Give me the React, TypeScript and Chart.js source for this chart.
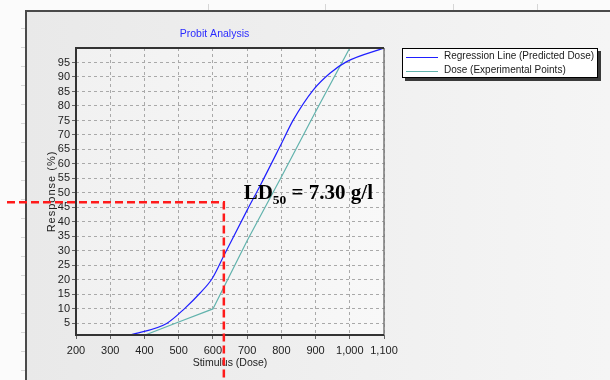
import React, { useEffect, useRef } from "react";
import { Chart, registerables } from "chart.js";

Chart.register(...registerables);

// ---- data ----
const REG_DOSE = [358, 465, 518, 562, 598, 633, 702, 738, 796, 835, 893, 942, 991, 1100];
const REG_RESP = [1, 5, 10.2, 15.4, 20.5, 28.6, 44.5, 52.5, 66, 75.2, 85.5, 91.3, 95.3, 100];

const EXP_DOSE = [402, 500, 600, 700, 800, 900, 1000];
const EXP_RESP = [1, 5.5, 10, 33.5, 55.5, 78, 100];

const X_TICKS = [200, 300, 400, 500, 600, 700, 800, 900, 1000, 1100];
const Y_TICKS = [5, 10, 15, 20, 25, 30, 35, 40, 45, 50, 55, 60, 65, 70, 75, 80, 85, 90, 95];

const SERIES_LABELS = ["Regression Line (Predicted Dose)", "Dose (Experimental Points)"];
const SERIES_COLORS = ["#1f1fff", "#62b3ad"];

const TITLE = "Probit Analysis";
const X_TITLE = "Stimulus (Dose)";
const Y_TITLE = "Response (%)";

const LD_DOSE = 632;
const LD_RESPONSE = 46.8;
const LD_TEXT_DOSE = 690;
const LD_TEXT_RESP = 47.9;

const SANS = "'Liberation Sans', Arial, sans-serif";
const SERIF = "'Liberation Serif', 'Times New Roman', serif";

const decorPlugin = {
  id: "decor",
  beforeDraw(chart: any) {
    const { ctx, width, height, chartArea } = chart;
    ctx.save();
    ctx.fillStyle = "#fbfbfb";
    ctx.fillRect(0, 0, width, height);
    // panel
    const g = ctx.createLinearGradient(26, 0, width, 0);
    g.addColorStop(0, "#e9e9e9");
    g.addColorStop(1, "#f5f5f5");
    ctx.fillStyle = g;
    ctx.fillRect(26, 11, width - 26, height - 11);
    // plot area
    const pg = ctx.createLinearGradient(chartArea.left, 0, chartArea.right, 0);
    pg.addColorStop(0, "#f1f1f1");
    pg.addColorStop(1, "#f8f8f8");
    ctx.fillStyle = pg;
    ctx.fillRect(chartArea.left, chartArea.top, chartArea.right - chartArea.left, chartArea.bottom - chartArea.top);
    // panel border
    ctx.strokeStyle = "#4a4a4a";
    ctx.lineWidth = 2;
    ctx.beginPath();
    ctx.moveTo(26, height);
    ctx.lineTo(26, 11);
    ctx.lineTo(width, 11);
    ctx.stroke();
    // faint ruler ticks
    ctx.strokeStyle = "#d6d6d6";
    ctx.lineWidth = 1;
    ctx.beginPath();
    [208, 325, 453, 537].forEach((x) => {
      ctx.moveTo(x + 0.5, 4);
      ctx.lineTo(x + 0.5, 10);
    });
    for (let y = 28; y < height; y += 19) {
      ctx.moveTo(21, y + 0.5);
      ctx.lineTo(25, y + 0.5);
    }
    ctx.stroke();
    ctx.restore();
  },
  afterDraw(chart: any) {
    const { ctx, chartArea } = chart;
    const xs = chart.scales.x;
    const ys = chart.scales.y;
    const { left, right, top, bottom } = chartArea;
    ctx.save();
    // plot frame
    ctx.strokeStyle = "#7a7a7a";
    ctx.lineWidth = 1.5;
    ctx.beginPath();
    ctx.moveTo(right, top);
    ctx.lineTo(right, bottom);
    ctx.stroke();
    ctx.strokeStyle = "#333";
    ctx.lineWidth = 2;
    ctx.beginPath();
    ctx.moveTo(right, top);
    ctx.lineTo(left, top);
    ctx.lineTo(left, bottom);
    ctx.lineTo(right, bottom);
    ctx.stroke();

    // title
    ctx.fillStyle = "#2b2bff";
    ctx.font = `10.5px ${SANS}`;
    ctx.textAlign = "center";
    ctx.textBaseline = "middle";
    ctx.fillText(TITLE, 214.5, 34.5);

    // axis titles
    ctx.fillStyle = "#222";
    ctx.font = `10.5px ${SANS}`;
    ctx.fillText(X_TITLE, (left + right) / 2, bottom + 28);
    ctx.save();
    ctx.translate(51.5, (top + bottom) / 2);
    ctx.rotate(-Math.PI / 2);
    ctx.font = `11px ${SANS}`;
    try { (ctx as any).letterSpacing = "1px"; } catch (e) {}
    ctx.fillText(Y_TITLE, 0, 0);
    ctx.restore();

    // legend
    const lx = right + 18;
    const ly = top;
    const lw = 196;
    const lh = 30;
    ctx.fillStyle = "#3a3a3a";
    ctx.fillRect(lx + 3, ly + 3, lw, lh);
    ctx.fillStyle = "#ffffff";
    ctx.fillRect(lx, ly, lw, lh);
    ctx.strokeStyle = "#000";
    ctx.lineWidth = 1;
    ctx.strokeRect(lx + 0.5, ly + 0.5, lw - 1, lh - 1);
    ctx.font = `10px ${SANS}`;
    ctx.textAlign = "left";
    ctx.textBaseline = "middle";
    SERIES_LABELS.forEach((lab, i) => {
      const yy = ly + 8.5 + i * 14;
      ctx.strokeStyle = SERIES_COLORS[i];
      ctx.lineWidth = 1;
      ctx.beginPath();
      ctx.moveTo(lx + 4, Math.round(yy) + 0.5);
      ctx.lineTo(lx + 36, Math.round(yy) + 0.5);
      ctx.stroke();
      ctx.fillStyle = "#1a1a1a";
      ctx.fillText(lab, lx + 42, yy);
    });

    // LD50 annotation text
    const tx = xs.getPixelForValue(LD_TEXT_DOSE);
    const ty = ys.getPixelForValue(LD_TEXT_RESP);
    ctx.fillStyle = "#000";
    ctx.textBaseline = "alphabetic";
    ctx.textAlign = "left";
    ctx.font = `bold 21px ${SERIF}`;
    ctx.fillText("LD", tx, ty);
    let cx = tx + ctx.measureText("LD").width;
    ctx.font = `bold 13.5px ${SERIF}`;
    ctx.fillText("50", cx, ty + 5);
    cx += ctx.measureText("50").width;
    ctx.font = `bold 21px ${SERIF}`;
    ctx.fillText(" = 7.30 g/l", cx, ty);

    // red dashed guide lines
    const vx = xs.getPixelForValue(LD_DOSE);
    const hy = ys.getPixelForValue(LD_RESPONSE);
    ctx.strokeStyle = "#ff1a1a";
    ctx.lineWidth = 2.5;
    ctx.setLineDash([8, 4]);
    ctx.beginPath();
    ctx.moveTo(7, hy);
    ctx.lineTo(vx, hy);
    ctx.lineTo(vx, chart.height);
    ctx.stroke();
    ctx.restore();
  },
};

export default function App() {
  const ref = useRef<HTMLCanvasElement | null>(null);
  useEffect(() => {
    document.body.style.margin = "0";
    if (!ref.current) return;
    const chart = new Chart(ref.current, {
      type: "line",
      data: {
        datasets: [
          {
            label: SERIES_LABELS[0],
            data: REG_DOSE.map((x, i) => ({ x, y: REG_RESP[i] })),
            borderColor: SERIES_COLORS[0],
            borderWidth: 1.2,
            pointRadius: 0,
            cubicInterpolationMode: "monotone",
            fill: false,
          },
          {
            label: SERIES_LABELS[1],
            data: EXP_DOSE.map((x, i) => ({ x, y: EXP_RESP[i] })),
            borderColor: SERIES_COLORS[1],
            borderWidth: 1.2,
            pointRadius: 0,
            tension: 0,
            fill: false,
          },
        ],
      },
      options: {
        responsive: false,
        animation: false,
        devicePixelRatio: 1,
        layout: { padding: { left: 0, right: 226, top: 48, bottom: 0 } },
        plugins: { legend: { display: false }, title: { display: false }, tooltip: { enabled: false } },
        scales: {
          x: {
            type: "linear",
            min: 200,
            max: 1100,
            afterBuildTicks: (s: any) => {
              s.ticks = X_TICKS.map((v) => ({ value: v }));
            },
            afterFit: (s: any) => {
              s.height = 45;
            },
            ticks: {
              autoSkip: false,
              maxRotation: 0,
              padding: 5,
              color: "#222",
              font: { family: SANS, size: 11 },
              callback: (v: any) => Number(v).toLocaleString("en-US"),
            },
            grid: { color: "#a9a9a9", lineWidth: 1, tickLength: 4, tickColor: "#666", tickBorderDash: [] },
            border: { display: false, dash: [3, 3] },
          },
          y: {
            type: "linear",
            min: 1,
            max: 100,
            afterBuildTicks: (s: any) => {
              s.ticks = Y_TICKS.map((v) => ({ value: v }));
            },
            afterFit: (s: any) => {
              s.width = 76;
            },
            ticks: {
              autoSkip: false,
              padding: 2,
              color: "#222",
              font: { family: SANS, size: 11 },
            },
            grid: { color: "#a9a9a9", lineWidth: 1, tickLength: 4, tickColor: "#666", tickBorderDash: [] },
            border: { display: false, dash: [3, 3] },
          },
        },
      },
      plugins: [decorPlugin],
    });
    return () => chart.destroy();
  }, []);
  return (
    <div style={{ position: "fixed", left: 0, top: 0, width: 610, height: 380 }}>
      <canvas ref={ref} width={610} height={380} style={{ display: "block" }} />
    </div>
  );
}
